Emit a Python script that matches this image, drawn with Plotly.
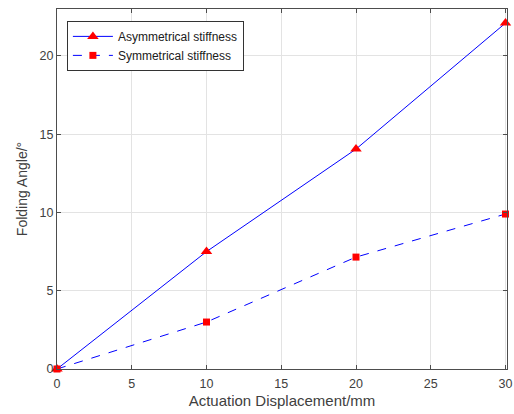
import plotly.graph_objects as go

x_disp = [0, 10, 20, 30]
asym_angle = [0, 7.5, 14.05, 22.1]
sym_angle = [0, 3.0, 7.15, 9.9]
x_ticks = [0, 5, 10, 15, 20, 25, 30]
y_ticks = [0, 5, 10, 15, 20]

FONT = "Liberation Sans, Arial"

fig = go.Figure()
fig.add_trace(go.Scatter(x=x_disp, y=asym_angle, mode="lines+markers", name="Asymmetrical stiffness",
                         line=dict(color="#0000FF", width=1),
                         marker=dict(symbol="triangle-up", color="#FF0000", size=10),
                         cliponaxis=False))
fig.add_trace(go.Scatter(x=x_disp, y=sym_angle, mode="lines+markers", name="Symmetrical stiffness",
                         line=dict(color="#0000FF", width=1, dash="dash"),
                         marker=dict(symbol="square", color="#FF0000", size=7),
                         cliponaxis=False))

axis_common = dict(showline=True, linecolor="#4d4d4d", linewidth=1, mirror="ticks",
                   ticks="inside", ticklen=4, tickcolor="#4d4d4d",
                   showgrid=True, gridcolor="#e3e3e3", gridwidth=1, zeroline=False,
                   ticklabeloverflow="allow",
                   tickfont=dict(family=FONT, size=12.5, color="#404040"))

fig.update_layout(
    width=514, height=414,
    margin=dict(l=57, r=2, t=9, b=45),
    paper_bgcolor="white", plot_bgcolor="white",
    xaxis=dict(range=[0, 30.1], tickvals=x_ticks, ticklabelstandoff=3, **axis_common,
               title=dict(text="Actuation Displacement/mm", standoff=5,
                          font=dict(family=FONT, size=15, color="#404040"))),
    yaxis=dict(range=[0, 23], tickvals=y_ticks, **axis_common,
               title=dict(text="Folding Angle/°", standoff=8,
                          font=dict(family=FONT, size=14, color="#404040"))),
    legend=dict(x=0.022, y=0.967, xanchor="left", yanchor="top",
                bgcolor="white", bordercolor="#333333", borderwidth=1,
                font=dict(family=FONT, size=12, color="#202020"),
                tracegroupgap=0, itemwidth=40),
    showlegend=True,
)
fig.write_html("out.html")
